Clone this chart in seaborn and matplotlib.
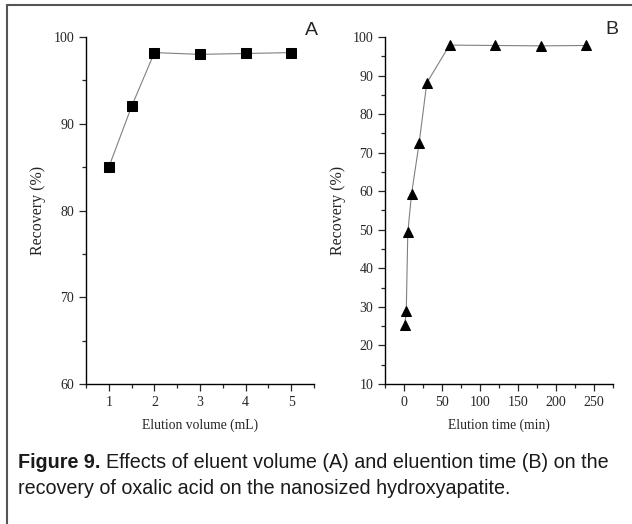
import matplotlib
matplotlib.use("Agg")
import matplotlib.pyplot as plt
import seaborn as sns
from matplotlib.ticker import MultipleLocator
from matplotlib.lines import Line2D

# data
vol_ml = [1, 1.5, 2, 3, 4, 5]
vol_recovery = [85.0, 92.0, 98.2, 98.0, 98.1, 98.2]
time_min = [1, 3, 5, 10, 20, 30, 60, 120, 180, 240]
time_recovery = [25.3, 29.0, 49.3, 59.4, 72.6, 88.1, 97.9, 97.8, 97.7, 97.8]

sns.set_style("ticks")
serif = ["Liberation Serif", "DejaVu Serif"]
sans = ["Liberation Sans", "DejaVu Sans"]

fig = plt.figure(figsize=(6.32, 5.24), dpi=100)
W, H = 632, 524
axA = fig.add_axes([86 / W, 1 - 384 / H, (314 - 86) / W, (384 - 37) / H])
axB = fig.add_axes([385 / W, 1 - 384 / H, (613 - 385) / W, (384 - 37) / H])

sns.lineplot(x=vol_ml, y=vol_recovery, ax=axA, color="#808080", lw=0.8,
             marker="s", markersize=6.5, mfc="black", mec="black")
sns.lineplot(x=time_min, y=time_recovery, ax=axB, color="#808080", lw=0.8,
             marker="^", markersize=7.5, mfc="black", mec="black")

axA.set_xlim(0.5, 5.5)
axA.set_ylim(60, 100)
axA.xaxis.set_major_locator(MultipleLocator(1))
axA.xaxis.set_minor_locator(MultipleLocator(0.5))
axA.yaxis.set_major_locator(MultipleLocator(10))
axA.yaxis.set_minor_locator(MultipleLocator(5))

axB.set_xlim(-25, 275)
axB.set_ylim(10, 100)
axB.xaxis.set_major_locator(MultipleLocator(50))
axB.xaxis.set_minor_locator(MultipleLocator(25))
axB.yaxis.set_major_locator(MultipleLocator(10))
axB.yaxis.set_minor_locator(MultipleLocator(5))

for ax, xl in [(axA, "Elution volume (mL)"), (axB, "Elution time (min)")]:
    sns.despine(ax=ax)
    for s in ["left", "bottom"]:
        ax.spines[s].set_linewidth(1.0)
        ax.spines[s].set_color("black")
    ax.tick_params(which="major", length=5, width=0.9, labelsize=10, direction="out")
    ax.tick_params(which="minor", length=3, width=0.9, direction="out")
    for lab in ax.get_xticklabels() + ax.get_yticklabels():
        lab.set_family(serif)
    ax.set_xlabel(xl, family=serif, fontsize=9.8, labelpad=7)
    ax.set_ylabel("Recovery (%)", family=serif, fontsize=11.5, labelpad=5)
    ax.set_facecolor("white")

fig.text(318 / W, 1 - 35 / H, "A", family=sans, fontsize=14, ha="right", va="baseline")
fig.text(618 / W, 1 - 34 / H, "B", family=sans, fontsize=14, ha="right", va="baseline")

# caption
cap_size = 14.2
bold = fig.text(18 / W, 1 - 468 / H, "Figure 9.", family=sans, fontsize=cap_size,
                weight="bold", color="#1a1a1a", va="baseline")
fig.canvas.draw()
ext = bold.get_window_extent(renderer=fig.canvas.get_renderer())
fig.text(ext.x1 / W + 5 / W, 1 - 468 / H,
         "Effects of eluent volume (A) and eluention time (B) on the",
         family=sans, fontsize=cap_size, color="#1a1a1a", va="baseline")
fig.text(18 / W, 1 - 494 / H, "recovery of oxalic acid on the nanosized hydroxyapatite.",
         family=sans, fontsize=cap_size, color="#1a1a1a", va="baseline")

# frame around the figure (top and left)
fig.add_artist(Line2D([7 / W, 1], [1 - 5 / H, 1 - 5 / H], color="#555555", lw=1.5,
                      transform=fig.transFigure))
fig.add_artist(Line2D([7 / W, 7 / W], [0, 1 - 5 / H], color="#555555", lw=1.5,
                      transform=fig.transFigure))

fig.savefig("out.png", dpi=100)
